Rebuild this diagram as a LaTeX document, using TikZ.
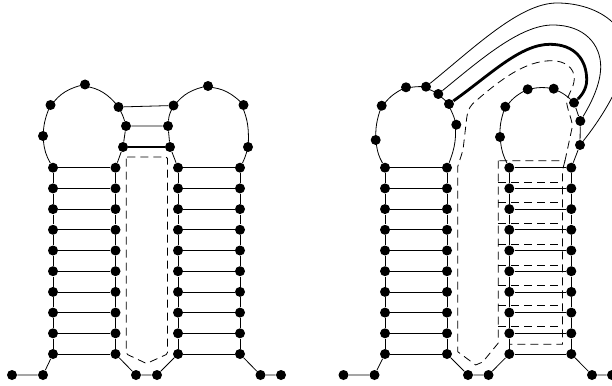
\documentclass[tikz,border=0pt]{standalone}
\usepackage{amsmath,amssymb}
\tikzset{
  dot/.style={circle,fill=black,inner sep=0pt,minimum size=10pt},
  strand/.style={line width=0.8pt},
  heavy/.style={line width=2.8pt},
  contour/.style={line width=0.8pt,dash pattern=on 8pt off 5pt}
}

\begin{document}
\begin{tikzpicture}[x=1pt,y=-1pt,line width=0.8pt]
\path[use as bounding box] (0,0) rectangle (612,385);
\begin{scope}
\foreach \i in {1,...,10} {
  \node[dot] (a\i) at (53,{167.7+20.7*(\i-1)}) {};
  \node[dot] (b\i) at (115.5,{167.7+20.7*(\i-1)}) {};
  \node[dot] (c\i) at (178,{167.7+20.7*(\i-1)}) {};
  \node[dot] (d\i) at (240,{167.7+20.7*(\i-1)}) {};
}
\foreach \i in {1,...,10} {\draw[strand] (a\i)--(b\i); \draw[strand] (c\i)--(d\i);}
\foreach \i [count=\j from 2] in {1,...,9} {\draw[strand] (a\i)--(a\j) (b\i)--(b\j) (c\i)--(c\j) (d\i)--(d\j);}
\node[dot] (s1) at (12,375) {}; \node[dot] (s2) at (43,375) {};
\node[dot] (s3) at (136,375) {}; \node[dot] (s4) at (157,375) {};
\node[dot] (s5) at (260.5,375) {}; \node[dot] (s6) at (281,375) {};
\draw[strand] (s1)--(s2)--(a10) (b10)--(s3)--(s4)--(c10) (d10)--(s5)--(s6);
\node[dot] (p1) at (43,136) {}; \node[dot] (p2) at (50.5,105) {};
\node[dot] (p3) at (85,84.5) {}; \node[dot] (p4) at (118.5,107) {};
\node[dot] (q1) at (173.5,105.5) {}; \node[dot] (q2) at (208,86) {};
\node[dot] (q3) at (243.5,105) {}; \node[dot] (q4) at (248,147) {};
\node[dot] (m1) at (126,126) {}; \node[dot] (m2) at (168,126) {};
\node[dot] (k1) at (123,147) {}; \node[dot] (k2) at (170,147) {};
\draw[strand] (a1) to[bend left=12] (p1) to[bend left=12] (p2) to[bend left=22] (p3) to[bend left=22] (p4) to[bend left=10] (m1);
\draw[strand] (m2) to[bend left=10] (q1) to[bend left=22] (q2) to[bend left=22] (q3) to[bend left=14] (q4) to[bend left=10] (d1);
\draw[strand] (m1)--(k1)--(b1) (m2)--(k2)--(c1) (p4)--(q1) (m1)--(m2);
\draw[heavy] (k1)--(k2);
\draw[contour,rounded corners=1.5pt] (126.3,157)--(126.3,354)--(146.5,363.5)--(167.5,354)--(167.5,157)--cycle;
\end{scope}
\begin{scope}
\foreach \i in {1,...,10} {
  \node[dot] (a\i) at (385,{167.7+20.7*(\i-1)}) {};
  \node[dot] (b\i) at (447,{167.7+20.7*(\i-1)}) {};
  \node[dot] (c\i) at (509.3,{167.7+20.7*(\i-1)}) {};
  \node[dot] (d\i) at (571.3,{167.7+20.7*(\i-1)}) {};
}
\foreach \i in {1,...,10} {\draw[strand] (a\i)--(b\i); \draw[strand] (c\i)--(d\i);}
\foreach \i [count=\j from 2] in {1,...,9} {\draw[strand] (a\i)--(a\j) (b\i)--(b\j) (c\i)--(c\j) (d\i)--(d\j);}
\node[dot] (s1) at (343.5,375) {}; \node[dot] (s2) at (374.5,375) {};
\node[dot] (s3) at (468,375) {}; \node[dot] (s4) at (488.5,375) {};
\node[dot] (s5) at (592,375) {}; \node[dot] (s6) at (612,375) {};
\draw[strand] (s1)--(s2)--(a10) (b10)--(s3)--(s4)--(c10) (d10)--(s5)--(s6);
\node[dot] (p1) at (375.7,140) {}; \node[dot] (p2) at (381.7,105.7) {};
\node[dot] (p3) at (406,87.3) {}; \node[dot] (p4) at (426,86.7) {};
\node[dot] (p5) at (438.3,94) {}; \node[dot] (p6) at (449,104) {};
\node[dot] (p7) at (456.3,124.7) {};
\node[dot] (q1) at (500,137) {}; \node[dot] (q2) at (505.3,106.7) {};
\node[dot] (q3) at (527.7,89.3) {}; \node[dot] (q4) at (553.7,88.7) {};
\node[dot] (q5) at (574,102.7) {}; \node[dot] (q6) at (580.3,121) {};
\node[dot] (q7) at (580,145) {};
\draw[strand] (a1) to[bend left=10] (p1) to[bend left=12] (p2) to[bend left=16] (p3) to[bend left=8] (p4) to[bend left=6] (p5) to[bend left=4] (p6) to[bend left=8] (p7) to[bend left=14] (b1);
\draw[strand] (c1) to[bend left=10] (q1) to[bend left=12] (q2) to[bend left=16] (q3) to[bend left=14] (q4) to[bend left=14] (q5);
\draw[strand] (q5)--(q6)--(q7)--(d1);
\draw[strand] (p4) .. controls (475,47) and (520,3) .. (557,3) .. controls (600,3) and (640,30) .. (622,75) .. controls (615,95) and (600,120) .. (q7);
\draw[strand] (p5) .. controls (480,60) and (520,25) .. (552.7,25) .. controls (585,25) and (600.7,45) .. (600.7,66.7) .. controls (600.7,85) and (590,105) .. (q6);
\draw[heavy] (p6) .. controls (490,75) and (520,44.3) .. (550,44.3) .. controls (575,44.3) and (586.7,60) .. (586.7,80) .. controls (586.7,90) and (580,97) .. (q5);
\draw[contour] (498.3,160.7)--(498.3,343)--(482.7,362)--(475.7,365)--(457.7,351.7)--(457.7,166.7)--(463,150)--(466.7,118) .. controls (468,108) and (472,104) .. (475,101.7) .. controls (500,80) and (525,60.7) .. (551.7,60.7) .. controls (565,60.7) and (574.3,68) .. (574.3,78.3) .. controls (574.3,88) and (567,95) .. (566.7,103) .. controls (568,112) and (572.3,120) .. (572.3,126.7)--(565,160.7)--cycle;
\foreach \y in {182.3,202.3,223.3,244.3,265.7,285.5,305,326.7} {\draw[contour] (498.3,\y)--(562.5,\y);}
\draw[contour] (565,160.7)--(562.5,170)--(562.5,344.3)--(509.3,344.3);
\end{scope}
\end{tikzpicture}
\end{document}
